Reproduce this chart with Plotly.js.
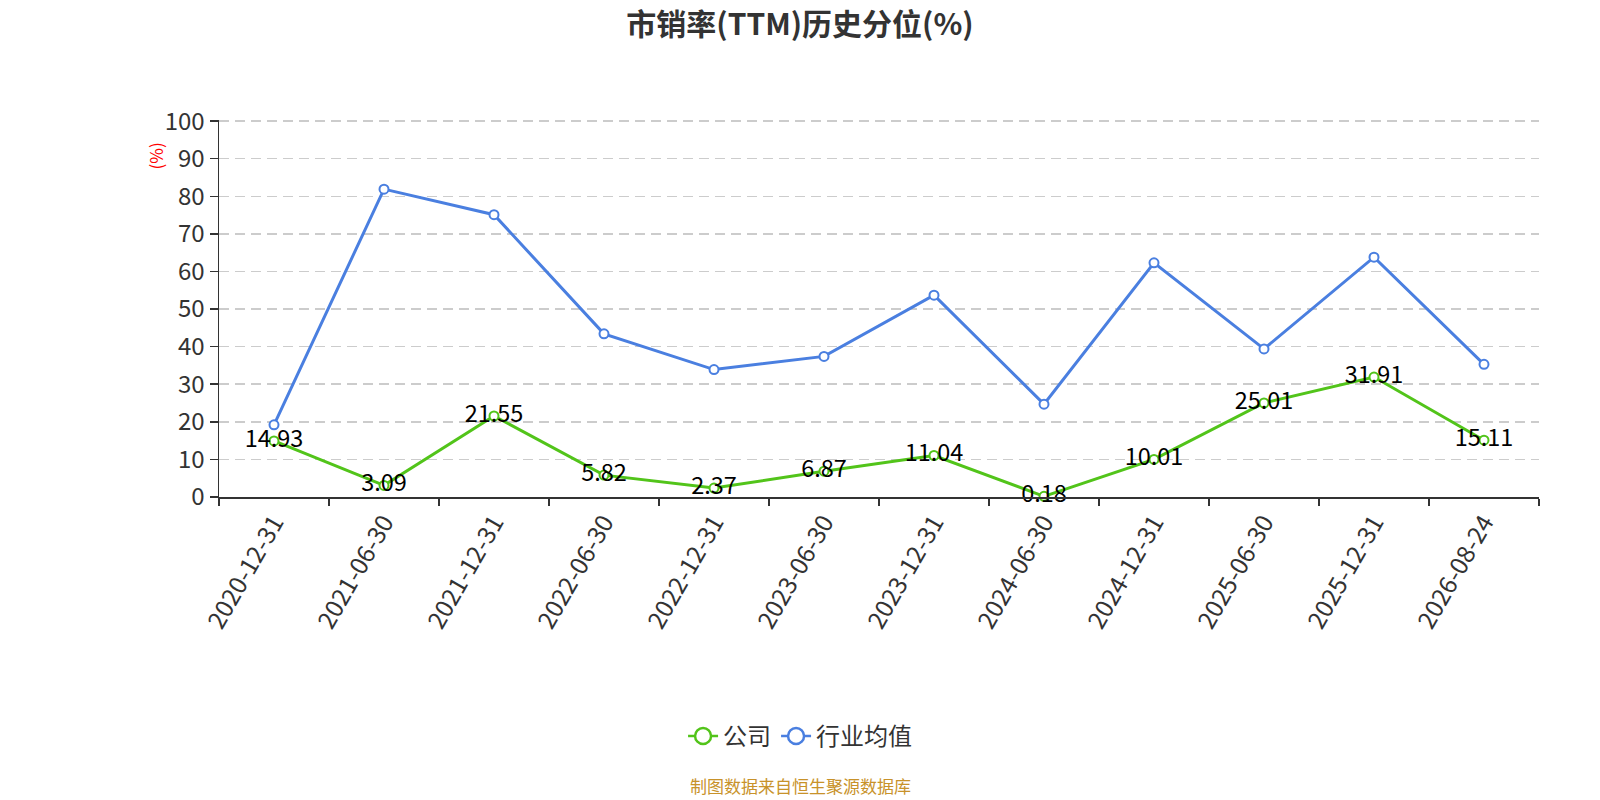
<!DOCTYPE html>
<html>
<head>
<meta charset="utf-8">
<script src="https://cdn.plot.ly/plotly-3.0.1.min.js"></script>
<style>
  html, body { margin: 0; padding: 0; background: #fff; }
  #chart { width: 1600px; height: 800px; }
</style>
</head>
<body>
<div id="chart"></div>
<script>
const dates = [
  "2020-12-31", "2021-06-30", "2021-12-31", "2022-06-30",
  "2022-12-31", "2023-06-30", "2023-12-31", "2024-06-30",
  "2024-12-31", "2025-06-30", "2025-12-31", "2026-08-24",
];
// company percentile (labelled on the chart)
const companyVals = [14.93, 3.09, 21.55, 5.82, 2.37, 6.87, 11.04, 0.18, 10.01, 25.01, 31.91, 15.11];
// industry average
const industryVals = [19.2, 81.9, 75.1, 43.4, 33.9, 37.4, 53.7, 24.7, 62.3, 39.4, 63.8, 35.3];

const FONT = "'Noto Sans CJK SC', 'Noto Sans', sans-serif";
const green = "#52c41a";
const blue = "#4a7fe0";

const traces = [
  {
    name: "公司",
    x: dates,
    y: companyVals,
    mode: "lines+markers+text",
    line: { color: green, width: 3 },
    marker: { symbol: "circle", size: 9, color: "#fff", line: { color: green, width: 2 } },
    text: companyVals.map((v) => v.toFixed(2)),
    textposition: "middle center",
    textfont: { family: FONT, size: 23.5, color: "#000" },
    cliponaxis: false,
    showlegend: false,
    hoverinfo: "x+y",
  },
  {
    name: "行业均值",
    x: dates,
    y: industryVals,
    mode: "lines+markers",
    line: { color: blue, width: 3 },
    marker: { symbol: "circle", size: 9, color: "#fff", line: { color: blue, width: 2 } },
    cliponaxis: false,
    showlegend: false,
    hoverinfo: "x+y",
  },
  // legend-only entries with the bigger legend symbols
  {
    name: "公司",
    x: [dates[0]],
    y: [null],
    mode: "lines+markers",
    line: { color: green, width: 2.5 },
    marker: { symbol: "circle", size: 16, color: "#fff", line: { color: green, width: 2.5 } },
    hoverinfo: "skip",
  },
  {
    name: "行业均值",
    x: [dates[0]],
    y: [null],
    mode: "lines+markers",
    line: { color: blue, width: 2.5 },
    marker: { symbol: "circle", size: 16, color: "#fff", line: { color: blue, width: 2.5 } },
    hoverinfo: "skip",
  },
];

const layout = {
  width: 1600,
  height: 800,
  paper_bgcolor: "#fff",
  plot_bgcolor: "#fff",
  font: { family: FONT, color: "#333" },
  margin: { l: 219, r: 61, t: 120, b: 303 },
  title: {
    text: "<b>市销率(TTM)历史分位(%)</b>",
    font: { family: FONT, size: 30, color: "#333" },
    x: 0.5,
    xanchor: "center",
    y: 0.97,
    yanchor: "middle",
  },
  xaxis: {
    type: "category",
    range: [-0.5, dates.length - 0.5],
    tickson: "boundaries",
    ticks: "outside",
    ticklen: 7,
    tickwidth: 1.5,
    tickcolor: "#333",
    showline: true,
    linecolor: "#333",
    linewidth: 1.5,
    showgrid: false,
    tickangle: -60,
    tickfont: { family: FONT, size: 24.5, color: "#333" },
    fixedrange: true,
  },
  yaxis: {
    range: [0, 100.3],
    tickvals: [0, 10, 20, 30, 40, 50, 60, 70, 80, 90, 100],
    ticks: "outside",
    ticklen: 8,
    tickwidth: 1.5,
    tickcolor: "#333",
    showline: true,
    linecolor: "#333",
    linewidth: 1.5,
    showgrid: true,
    gridcolor: "#cccccc",
    griddash: "10px,6px",
    gridwidth: 1.5,
    zeroline: false,
    tickfont: { family: FONT, size: 24, color: "#333" },
    fixedrange: true,
  },
  showlegend: true,
  legend: {
    orientation: "h",
    x: 0.4402,
    xanchor: "center",
    y: -0.635,
    yanchor: "middle",
    font: { family: FONT, size: 24, color: "#333" },
    itemsizing: "trace",
  },
  annotations: [
    {
      text: "(%)",
      xref: "paper",
      yref: "paper",
      x: -0.048,
      y: 0.905,
      xanchor: "center",
      yanchor: "middle",
      textangle: -90,
      showarrow: false,
      font: { family: FONT, size: 17, color: "#ff0000" },
    },
    {
      text: "制图数据来自恒生聚源数据库",
      xref: "paper",
      yref: "paper",
      x: 0.4402,
      y: -0.765,
      xanchor: "center",
      yanchor: "middle",
      showarrow: false,
      font: { family: FONT, size: 17, color: "#c8922a" },
    },
  ],
};

Plotly.newPlot("chart", traces, layout, { displayModeBar: false, staticPlot: true });
</script>
</body>
</html>
